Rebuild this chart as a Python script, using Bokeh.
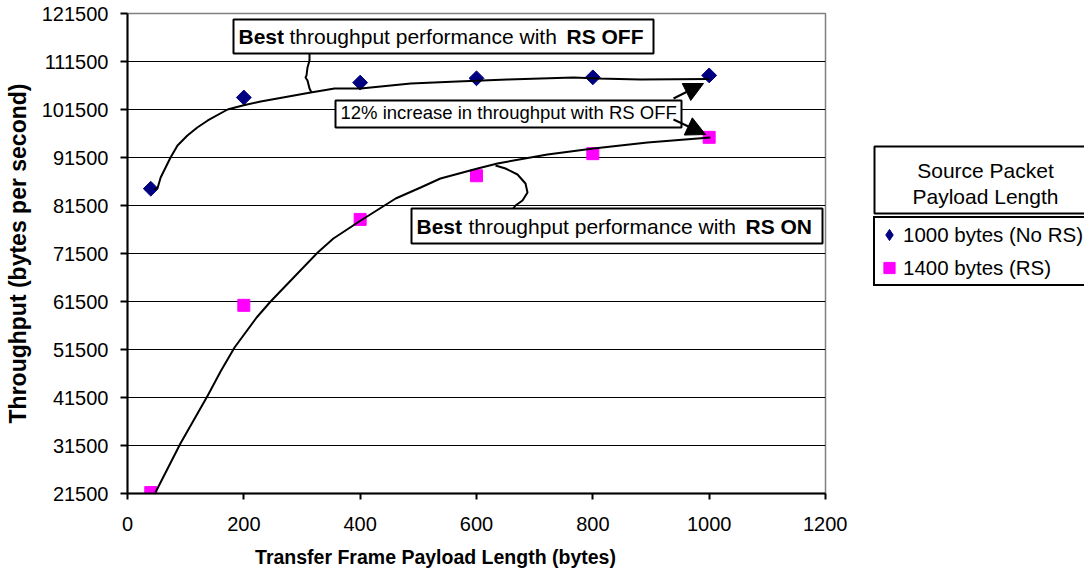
import numpy as np
from bokeh.plotting import figure
from bokeh.layouts import row
from bokeh.models import (Range1d, FixedTicker, Label, BoxAnnotation, Arrow,
                          NormalHead, Legend, LegendItem)
from bokeh.embed import file_html
from bokeh.resources import INLINE

# ---------------- data ----------------
frame_length = [40, 200, 400, 600, 800, 1000]
tput_no_rs = [85000, 104000, 107100, 108000, 108200, 108600]
tput_rs = [21700, 60700, 78600, 87700, 92300, 95700]

trend_no_rs_x = [46, 52, 57, 74, 86, 103, 120, 138, 172, 198, 229, 315, 356,
                 401, 487, 567, 653, 767, 808, 882, 1000]
trend_no_rs_y = [84800, 85250, 87330, 91500, 94000, 96080, 97750, 99210, 101500,
                 102330, 103170, 105040, 105880, 105880, 106920, 107330, 107750,
                 108170, 107960, 107750, 107850]

trend_rs_x = [48, 91, 138, 160, 184, 222, 246, 284, 327, 354, 401, 461, 504,
              538, 602, 636, 722, 801, 894, 1002]
trend_rs_y = [21710, 31920, 41920, 46920, 51920, 58170, 61500, 66290, 71710,
              74630, 78380, 82960, 85250, 87130, 89210, 90250, 92130, 93380,
              94630, 95670]

x_ticks = [0, 200, 400, 600, 800, 1000, 1200]
y_ticks = [21500, 31500, 41500, 51500, 61500, 71500, 81500, 91500, 101500,
           111500, 121500]
y_tick_labels = [str(v) for v in y_ticks]

series_names = ["1000 bytes (No RS)", "1400 bytes (RS)"]
legend_title_lines = ["Source Packet", "Payload Length"]
x_title = "Transfer Frame Payload Length (bytes)"
y_title = "Throughput (bytes per second)"

# ---------------- layout (page pixels) ----------------
PAGE_W, PAGE_H = 1084, 577
FX0, FX1, FY0, FY1 = 127, 825, 493, 13      # plot frame edges
SPLIT = 847                                  # main figure | legend panel
XMIN, XMAX, YMIN, YMAX = 0, 1200, 21500, 121500


def dx(px):
    return XMIN + (px - FX0) / (FX1 - FX0) * (XMAX - XMIN)


def dy(py):
    return YMIN + (FY0 - py) / (FY0 - FY1) * (YMAX - YMIN)


FONT = "Liberation Sans"

p = figure(width=SPLIT, height=PAGE_H, output_backend="svg",
           toolbar_location=None,
           x_range=Range1d(XMIN, XMAX), y_range=Range1d(YMIN, YMAX),
           min_border_left=FX0, min_border_right=SPLIT - FX1,
           min_border_top=FY1, min_border_bottom=PAGE_H - FY0)
p.background_fill_color = "white"
p.border_fill_color = "white"
p.outline_line_color = "#808080"
p.outline_line_width = 1.5

p.xgrid.grid_line_color = None
p.ygrid.ticker = FixedTicker(ticks=y_ticks)
p.ygrid.grid_line_color = "black"
p.ygrid.grid_line_width = 1

for ax in (p.xaxis[0], p.yaxis[0]):
    ax.axis_line_width = 2
    ax.axis_line_color = "black"
    ax.major_tick_line_width = 2
    ax.major_tick_line_color = "black"
    ax.minor_tick_line_color = None
    ax.major_tick_in = 0
    ax.major_label_text_font = FONT
    ax.major_label_text_font_size = "20px"
    ax.major_label_text_color = "black"

p.xaxis.ticker = FixedTicker(ticks=x_ticks)
p.xaxis.major_tick_out = 6
p.xaxis.major_label_standoff = 17

p.yaxis.ticker = FixedTicker(ticks=y_ticks)
p.yaxis.major_label_overrides = {v: s for v, s in zip(y_ticks, y_tick_labels)}
p.yaxis.major_tick_out = 7
p.yaxis.major_label_standoff = 12
p.yaxis.axis_label = y_title
p.yaxis.axis_label_text_font = FONT
p.yaxis.axis_label_text_font_style = "bold"
p.yaxis.axis_label_text_font_size = "23px"
p.yaxis.axis_label_text_color = "black"
p.yaxis.axis_label_standoff = 8

# ---------------- data marks ----------------
r1 = p.scatter(frame_length, tput_no_rs, marker="square", angle=np.pi / 4,
               size=10.5, fill_color="#000080", line_color="#000080")
r2 = p.scatter(frame_length, tput_rs, marker="square", size=12,
               fill_color="#FF00FF", line_color="#FF00FF")

p.line(trend_no_rs_x, trend_no_rs_y, line_color="black", line_width=2)
p.line(trend_rs_x, trend_rs_y, line_color="black", line_width=2)

# ---------------- callout curves ----------------
callout_off_px = [(309, 53), (309, 60), (307, 67), (306, 75), (305, 77),
                  (307, 80), (309, 88), (311, 92)]
callout_on_px = [(495, 165), (505, 168), (517, 174), (525, 183), (527, 192),
                 (522, 200), (515, 205), (512, 209)]
for pts in (callout_off_px, callout_on_px):
    p.line([dx(a) for a, b in pts], [dy(b) for a, b in pts],
           line_color="black", line_width=2)

# ---------------- annotation boxes ----------------
boxes_px = [(233, 19, 653, 53), (335, 100, 681, 127), (411, 208, 822, 243)]
for (l, t, r, b) in boxes_px:
    p.add_layout(BoxAnnotation(left=dx(l), right=dx(r), top=dy(t), bottom=dy(b),
                               fill_color="white", fill_alpha=1,
                               line_color="black", line_width=2, line_alpha=1))

text_pieces = [
    ("Best", "bold", 238, 36, "21px"),
    ("throughput performance with", "normal", 289, 36, "21px"),
    ("RS OFF", "bold", 566, 36, "21px"),
    ("12% increase in throughput with RS OFF", "normal", 340, 112, "18.5px"),
    ("Best", "bold", 416, 225.5, "21px"),
    ("throughput performance with", "normal", 468, 225.5, "21px"),
    ("RS ON", "bold", 745, 225.5, "21px"),
]
for txt, style, px, py, fs in text_pieces:
    p.add_layout(Label(x=dx(px), y=dy(py), text=txt, text_font=FONT,
                       text_font_style=style, text_font_size=fs,
                       text_color="black", text_align="left",
                       text_baseline="middle"))

head_size = 19
for (x0, y0, x1, y1) in [(673, 98, 703, 83), (673, 119, 705, 134)]:
    p.add_layout(Arrow(end=NormalHead(size=head_size, fill_color="black",
                                      line_color="black"),
                       x_start=dx(x0), y_start=dy(y0), x_end=dx(x1), y_end=dy(y1),
                       line_color="black", line_width=2))

# ---------------- x title (in the bottom side panel, so it is not clipped) ----
p.add_layout(Label(x=dx(435), y=dy(556), text=x_title, text_font=FONT,
                   text_font_style="bold", text_font_size="19.5px",
                   text_color="black", text_align="center",
                   text_baseline="alphabetic"), "below")

# ---------------- legend panel (its frame is aligned with the main frame) ----
q = figure(width=PAGE_W - SPLIT, height=PAGE_H, output_backend="svg",
           toolbar_location=None, x_axis_location=None, y_axis_location=None,
           x_range=Range1d(SPLIT, PAGE_W), y_range=Range1d(FY0, FY1),
           min_border=0, outline_line_color=None)
q.grid.visible = False
q.background_fill_color = "white"
q.border_fill_color = "white"

# legend glyph renderers (same series; their points fall outside this panel)
q1 = q.scatter(frame_length, tput_no_rs, marker="diamond", size=13,
               fill_color="#000080", line_color="#000080")
q2 = q.scatter(frame_length, tput_rs, marker="square", size=12,
               fill_color="#FF00FF", line_color="#FF00FF")

q.add_layout(BoxAnnotation(left=874, right=1095, top=146, bottom=213,
                           fill_color="white", fill_alpha=1,
                           line_color="black", line_width=2, line_alpha=1))
for i, line in enumerate(legend_title_lines):
    q.add_layout(Label(x=985, y=170 + 26 * i, text=line, text_font=FONT,
                       text_font_size="21px", text_color="black",
                       text_align="center", text_baseline="middle"))

legend = Legend(items=[LegendItem(label=series_names[0], renderers=[q1]),
                       LegendItem(label=series_names[1], renderers=[q2])],
                location=(873 - SPLIT, FY0 - 286),
                label_text_font=FONT, label_text_font_size="20.5px",
                label_text_color="black",
                glyph_width=28, glyph_height=33, label_height=33,
                label_width=190, label_standoff=0, spacing=0, padding=0,
                margin=0, border_line_color="black", border_line_width=2,
                border_line_alpha=1, background_fill_color="white",
                background_fill_alpha=1)
q.add_layout(legend)

layout = row(p, q)
open("out.html", "w").write(file_html(layout, INLINE))
